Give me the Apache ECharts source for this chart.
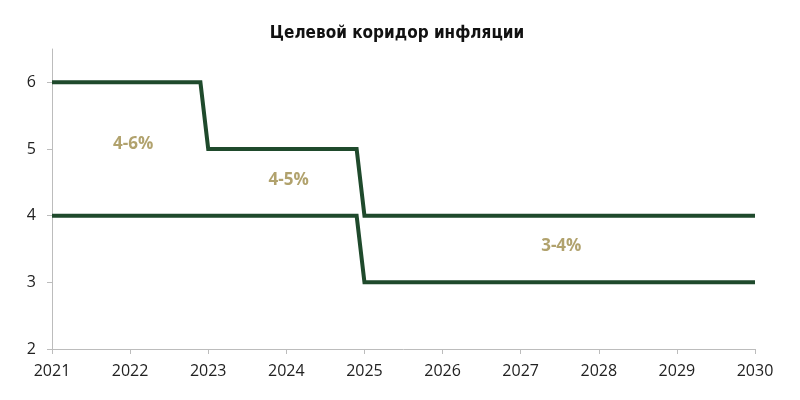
<!DOCTYPE html>
<html>
<head>
<meta charset="utf-8">
<script src="https://cdn.jsdelivr.net/npm/echarts@6/dist/echarts.min.js"></script>
<style>html,body{margin:0;padding:0;background:#fff}#c{width:800px;height:400px}</style>
</head>
<body>
<div id="c"></div>
<script>
const titleText = 'Целевой коридор инфляции';
const yTicks = [2, 3, 4, 5, 6];
const xTicks = [2021, 2022, 2023, 2024, 2025, 2026, 2027, 2028, 2029, 2030];
// upper bound of the corridor (year, %)
const upperX = [2021, 2022.9, 2023, 2024.9, 2025, 2030];
const upperY = [6, 6, 5, 5, 4, 4];
// lower bound of the corridor
const lowerX = [2021, 2024.9, 2025, 2030];
const lowerY = [4, 4, 3, 3];
// band labels
const bandNames = ['4-6%', '4-5%', '3-4%'];
const bandX = [2022.04, 2024.03, 2027.52];
const bandY = [5.07, 4.53, 3.55];

const lineColor = '#1f4a2c';
const labelColor = '#9e8b48';
const fontFam = "'Open Sans', sans-serif";

const chart = echarts.init(document.getElementById('c'), null, {renderer: 'canvas'});
chart.setOption({
  animation: false,
  backgroundColor: '#ffffff',
  title: {
    text: titleText, left: 392, top: 20, textAlign: 'center',
    textStyle: {fontFamily: "'Liberation Sans Narrow', 'DejaVu Sans Condensed', sans-serif", fontWeight: 'bold', fontSize: 17, color: '#111'}
  },
  grid: {left: 52, right: 45, top: 49, bottom: 51, containLabel: false},
  xAxis: {
    type: 'value', min: 2021, max: 2030, interval: 1,
    axisLine: {show: true, lineStyle: {color: '#bcbcbc', width: 1}},
    axisTick: {show: true, inside: false, length: 5, lineStyle: {color: '#bcbcbc'}},
    splitLine: {show: false},
    axisLabel: {fontFamily: fontFam, fontSize: 16, color: '#222', margin: 14, formatter: v => String(v)}
  },
  yAxis: {
    type: 'value', min: 2, max: 6.5,
    axisLine: {show: true, lineStyle: {color: '#bcbcbc', width: 1}},
    axisTick: {show: true, length: 5, lineStyle: {color: '#bcbcbc'}, customValues: yTicks},
    splitLine: {show: false},
    axisLabel: {fontFamily: fontFam, fontSize: 16, color: '#222', margin: 16, customValues: yTicks}
  },
  series: [
    {type: 'line', data: upperX.map((x, i) => [x, upperY[i]]), symbol: 'none',
     lineStyle: {color: lineColor, width: 4, cap: 'butt', join: 'miter'}},
    {type: 'line', data: lowerX.map((x, i) => [x, lowerY[i]]), symbol: 'none',
     lineStyle: {color: lineColor, width: 4, cap: 'butt', join: 'miter'}},
    {type: 'scatter', symbolSize: 0, silent: true,
     data: bandNames.map((n, i) => ({name: n, value: [bandX[i], bandY[i]]})),
     label: {show: true, position: 'inside', formatter: p => p.name,
       fontFamily: fontFam, fontWeight: 'bold', fontSize: 17, color: labelColor}}
  ]
});
</script>
</body>
</html>
